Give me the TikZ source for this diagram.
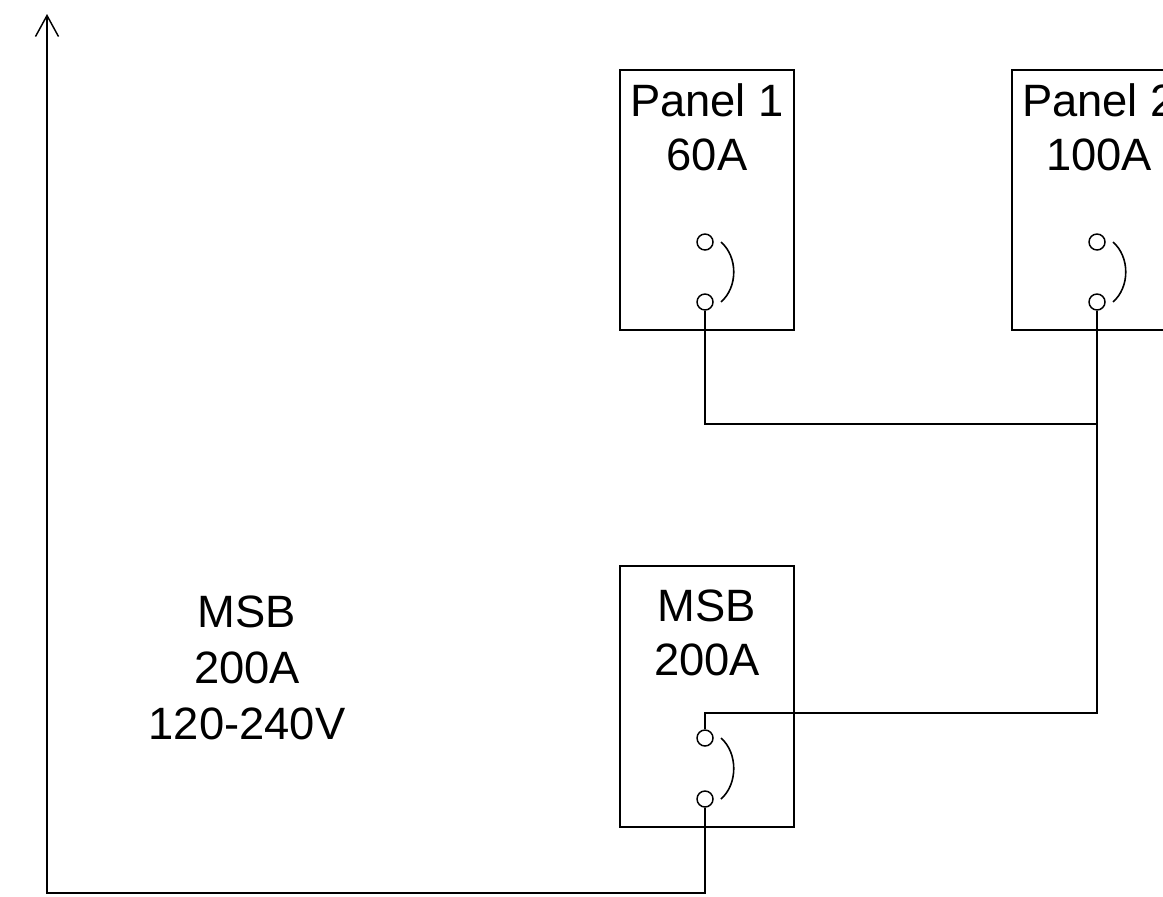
\documentclass[tikz,border=0pt]{standalone}
\usepackage{fontspec}
\setmainfont{Liberation Sans}
\usetikzlibrary{arrows.meta}
\begin{document}
\begin{tikzpicture}[x=0.75pt,y=-0.75pt,
  wire/.style={line width=1.2pt,line join=miter},
  panelbox/.style={draw,line width=1.2pt,rectangle,inner sep=0pt,minimum width=174*0.75pt,minimum height=260*0.75pt},
  term/.style={draw,circle,line width=1.1pt,inner sep=0pt,minimum size=16*0.75pt,fill=white},
  lbl/.style={inner sep=0pt,anchor=base,font=\fontsize{34}{40}\selectfont}
]
\useasboundingbox (0,0) rectangle (1163,896);
% boxes
\node[panelbox] (p1) at (707,200) {};
\node[panelbox] (p2) at (1099,200) {};
\node[panelbox,minimum height=261*0.75pt] (msb) at (707,696.5) {};
% labels
\node[lbl] (p1t1) at (707,116) {Panel 1};
\node[lbl] (p1t2) at (707,170) {60A};
\node[lbl] (p2t1) at (1099,116) {Panel 2};
\node[lbl] (p2t2) at (1099,170) {100A};
\node[lbl] (mt1) at (707,621) {MSB};
\node[lbl] (mt2) at (707,675) {200A};
\node[lbl] (lt1) at (247,627) {MSB};
\node[lbl] (lt2) at (247,683) {200A};
\node[lbl] (lt3) at (247,739) {120-240V};
% breaker terminals
\node[term] (p1a) at (705,242) {};
\node[term] (p1b) at (705,302) {};
\node[term] (p2a) at (1097,242) {};
\node[term] (p2b) at (1097,302) {};
\node[term] (ma) at (705,738) {};
\node[term] (mb) at (705,799) {};
% breaker arcs
\draw[wire] (721,242) .. controls (738,257) and (738,287) .. (721,302);
\draw[wire] (1113,242) .. controls (1130,257) and (1130,287) .. (1113,302);
\draw[wire] (721,738) .. controls (738,753) and (738,784) .. (721,799);
% coordinates
\coordinate (j1) at (1097,424);
\coordinate (top) at (47,14);
% wires
\draw[wire] (p1b.south) |- (j1);
\draw[wire] (p2b.south) -- (1097,713) -| (ma.north);
\draw[wire,-{Straight Barb[length=21*0.75pt,width=23*0.75pt,line width=1.1pt]}] (mb.south) |- (47,893) -- (top);
\end{tikzpicture}
\end{document}
